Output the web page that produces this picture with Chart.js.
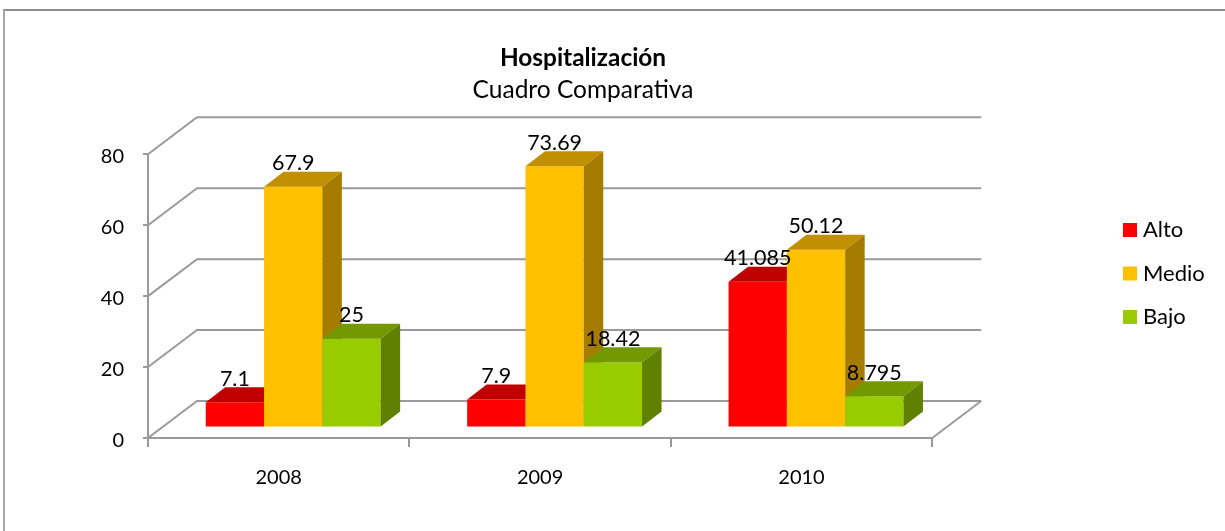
<!DOCTYPE html>
<html>
<head>
<meta charset="utf-8">
<script src="https://cdn.jsdelivr.net/npm/chart.js@4"></script>
<style>
html,body{margin:0;padding:0;background:#fff;overflow:hidden}
#frame{position:absolute;left:3px;top:9px;width:1240px;height:540px;border-top:2px solid #8f8f8f;border-left:2px solid #a8a8a8}
#wrap{position:absolute;left:0;top:0;width:1225px;height:531px}
</style>
</head>
<body>
<div id="frame"></div>
<div id="wrap"><canvas id="c" width="1225" height="531"></canvas></div>
<script>
const categories = ['2008', '2009', '2010'];
const alto = [7.1, 7.9, 41.085];
const medio = [67.9, 73.69, 50.12];
const bajo = [25, 18.42, 8.795];
const yTicks = [0, 20, 40, 60, 80];

const FONT = 'Lato, Carlito, Calibri, sans-serif';
const GRID = '#9a9a9a';
const wall = {dx: 49, dy: -37};
const barShift = {dx: 14.5, dy: -10.5};
const barDepth = {dx: 19.5, dy: -15};
const shades = [
  {top: '#c00000', side: '#a00000'},
  {top: '#c09000', side: '#a67c00'},
  {top: '#739900', side: '#608000'}
];

function poly(ctx, pts, fill) {
  ctx.beginPath();
  pts.forEach((p, i) => i ? ctx.lineTo(p[0], p[1]) : ctx.moveTo(p[0], p[1]));
  ctx.closePath();
  ctx.fillStyle = fill;
  ctx.fill();
}

const threeD = {
  id: 'threeD',
  afterLayout(chart) {
    chart.boxes.filter(b => b.position === 'top').forEach(b => { b.left = 0; b.right = 1166; });
    const lg = chart.legend;
    const pad = lg.options.labels.padding;
    lg.left = 1128 - pad; lg.right = lg.left + lg.width;
    lg.top += 8; lg.bottom += 8;
  },
  beforeDatasetsDraw(chart) {
    const {ctx, scales: {x, y}, chartArea: a} = chart;
    ctx.save();
    ctx.strokeStyle = GRID;
    ctx.lineWidth = 2;
    ctx.beginPath();
    yTicks.forEach(v => {
      const py = y.getPixelForValue(v);
      ctx.moveTo(a.left, py);
      ctx.lineTo(a.left + wall.dx, py + wall.dy);
      ctx.lineTo(a.right + wall.dx, py + wall.dy);
    });
    const base = y.getPixelForValue(0);
    ctx.moveTo(a.right, base);
    ctx.lineTo(a.right + wall.dx, base + wall.dy);
    ctx.stroke();
    ctx.restore();
  },
  // Datasets are painted left to right below, so each bar covers its neighbour's side face.
  beforeDatasetDraw() { return false; },
  afterDatasetsDraw(chart) {
    const ctx = chart.ctx;
    chart.data.datasets.forEach((ds, i) => {
      const meta = chart.getDatasetMeta(i);
      const s = shades[i];
      ctx.save();
      ctx.translate(barShift.dx, barShift.dy);
      meta.controller.draw();
      meta.data.forEach(el => {
        const l = el.x - el.width / 2, r = el.x + el.width / 2, t = el.y, b = el.base;
        const {dx, dy} = barDepth;
        poly(ctx, [[l, t], [r, t], [r + dx, t + dy], [l + dx, t + dy]], s.top);
        poly(ctx, [[r, t], [r + dx, t + dy], [r + dx, b + dy], [r, b]], s.side);
      });
      ctx.restore();
    });
    ctx.save();
    ctx.fillStyle = '#000';
    ctx.font = '21.5px ' + FONT;
    ctx.textAlign = 'center';
    ctx.textBaseline = 'alphabetic';
    chart.data.datasets.forEach((ds, i) => {
      chart.getDatasetMeta(i).data.forEach((el, j) => {
        ctx.fillText(String(ds.data[j]), el.x + barShift.dx, el.y + barShift.dy - 16.5);
      });
    });
    ctx.restore();
  }
};

new Chart(document.getElementById('c'), {
  type: 'bar',
  data: {
    labels: categories,
    datasets: [
      {label: 'Alto', data: alto, backgroundColor: '#ff0000'},
      {label: 'Medio', data: medio, backgroundColor: '#ffc000'},
      {label: 'Bajo', data: bajo, backgroundColor: '#99cc00'}
    ]
  },
  plugins: [threeD],
  options: {
    responsive: false,
    animation: false,
    layout: {padding: {left: 0, right: 184.5, top: 0, bottom: 0}},
    datasets: {bar: {barPercentage: 1, categoryPercentage: 0.669}},
    scales: {
      x: {
        afterFit(s) { s.height = 93; },
        grid: {drawOnChartArea: false, color: GRID, lineWidth: 2, tickLength: 9, offset: true},
        border: {color: GRID, width: 2},
        ticks: {color: '#000', font: {family: FONT, size: 20}, padding: 19, maxRotation: 0}
      },
      y: {
        min: 0, max: 80,
        afterFit(s) { s.width = 148; },
        afterBuildTicks(s) { s.ticks = yTicks.map(v => ({value: v})); },
        grid: {drawOnChartArea: false, color: GRID, lineWidth: 2, tickLength: 5},
        border: {color: GRID, width: 2},
        ticks: {color: '#000', font: {family: FONT, size: 20}, padding: 19, labelOffset: 2.5}
      }
    },
    plugins: {
      tooltip: {enabled: false},
      title: {
        display: true, text: 'Hospitalización', color: '#000',
        font: {family: FONT, size: 24.4, weight: 'bold'},
        padding: {top: 43.6, bottom: 3}
      },
      subtitle: {
        display: true, text: 'Cuadro Comparativa', color: '#000',
        font: {family: FONT, size: 24.5, weight: 'normal'},
        padding: {top: 0, bottom: 49}
      },
      legend: {
        position: 'right', align: 'center',
        labels: {
          color: '#000', font: {family: FONT, size: 22}, boxWidth: 4, boxHeight: 4, padding: 21.5,
          generateLabels(chart) {
            return Chart.defaults.plugins.legend.labels.generateLabels(chart).map(it => ({
              ...it, lineWidth: 10, strokeStyle: it.fillStyle
            }));
          }
        }
      }
    }
  }
});
</script>
</body>
</html>
